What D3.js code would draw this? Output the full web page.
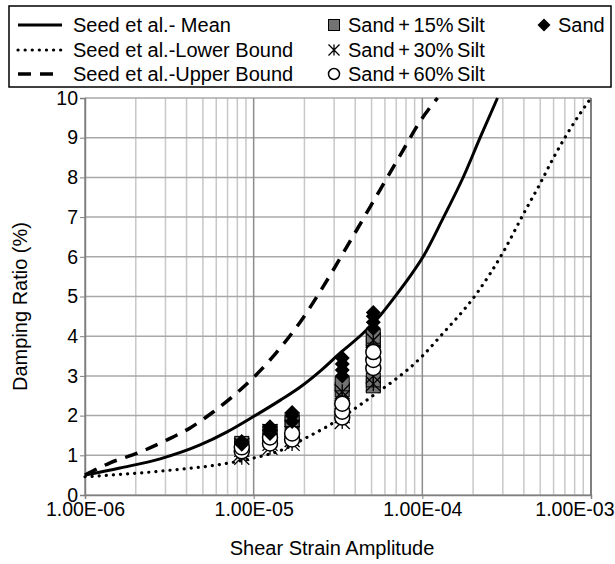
<!DOCTYPE html>
<html>
<head>
<meta charset="utf-8">
<script src="https://cdn.jsdelivr.net/npm/d3@7"></script>
<style>
  body { margin: 0; background: #fff; }
  text { font-family: "Liberation Sans", Arial, sans-serif; fill: #000; }
</style>
</head>
<body>
<div id="chart"></div>
<script>
const width = 615;
const height = 564;
const margin = { top: 98, right: 24, bottom: 69, left: 85 };

// Seed et al. curves [strain, damping %]
const seedMean = [[1e-6, 0.5], [1.61e-6, 0.68], [2.79e-6, 0.91], [4.81e-6, 1.26], [6.96e-6, 1.59],
  [9.93e-6, 1.97], [1.44e-5, 2.39], [1.89e-5, 2.72], [2.48e-5, 3.12], [3.26e-5, 3.58],
  [4.47e-5, 4.08], [5.64e-5, 4.53], [6.92e-5, 5.01], [8.49e-5, 5.52], [1.01e-4, 6.0],
  [1.33e-4, 6.98], [1.75e-4, 8.01], [2.21e-4, 9.02], [2.79e-4, 10]];
const seedLower = [[1e-6, 0.46], [2.8e-6, 0.6], [7e-6, 0.8], [1e-5, 0.93], [1.6e-5, 1.2],
  [2e-5, 1.42], [2.66e-5, 1.7], [4.9e-5, 2.45], [1e-4, 3.5], [1.28e-4, 4.0], [2.12e-4, 5.1],
  [3e-4, 6.1], [4e-4, 7.1], [5e-4, 7.85], [6e-4, 8.5], [7e-4, 9.0], [8e-4, 9.4], [1e-3, 10]];
const seedUpper = [[1e-6, 0.5], [1.41e-6, 0.81], [2.12e-6, 1.08], [3.07e-6, 1.39], [4.2e-6, 1.69],
  [5.75e-6, 2.09], [7.55e-6, 2.49], [9.93e-6, 2.95], [1.34e-5, 3.55], [1.89e-5, 4.36],
  [2.55e-5, 5.21], [3.74e-5, 6.4], [5.64e-5, 7.7], [7.4e-5, 8.56], [9.73e-5, 9.42], [1.23e-4, 10]];

// test points: [strain, damping %]
const sand15 = [[8.5e-6, 1.25], [8.5e-6, 1.3], [1.25e-5, 1.55], [1.25e-5, 1.6], [1.69e-5, 1.8],
  [1.69e-5, 1.9], [3.35e-5, 2.65], [3.35e-5, 2.8], [5.12e-5, 2.75], [5.12e-5, 2.9],
  [5.12e-5, 3.9], [5.12e-5, 4.0]];
const sand30 = [[8.5e-6, 0.95], [8.5e-6, 1.05], [8.5e-6, 1.15], [8.5e-6, 1.25], [1.25e-5, 1.2],
  [1.25e-5, 1.3], [1.25e-5, 1.45], [1.25e-5, 1.6], [1.69e-5, 1.3], [1.69e-5, 1.4], [1.69e-5, 1.55],
  [1.69e-5, 1.7], [3.35e-5, 1.85], [3.35e-5, 2.0], [3.35e-5, 2.2], [3.35e-5, 2.45], [3.35e-5, 2.6],
  [5.12e-5, 2.8], [5.12e-5, 3.0], [5.12e-5, 3.3], [5.12e-5, 3.6], [5.12e-5, 3.9]];
const sand60 = [[8.5e-6, 1.1], [8.5e-6, 1.2], [1.25e-5, 1.3], [1.25e-5, 1.45], [1.69e-5, 1.4],
  [1.69e-5, 1.55], [3.35e-5, 1.95], [3.35e-5, 2.1], [3.35e-5, 2.3], [5.12e-5, 3.2],
  [5.12e-5, 3.4], [5.12e-5, 3.6]];
const sand = [[8.5e-6, 1.28], [8.5e-6, 1.35], [1.25e-5, 1.55], [1.25e-5, 1.65], [1.25e-5, 1.72],
  [1.69e-5, 1.85], [1.69e-5, 2.0], [1.69e-5, 2.08], [3.35e-5, 3.0], [3.35e-5, 3.15],
  [3.35e-5, 3.3], [3.35e-5, 3.45], [5.12e-5, 4.2], [5.12e-5, 4.35], [5.12e-5, 4.5], [5.12e-5, 4.6]];

const xTicks = [1e-6, 1e-5, 1e-4, 1e-3];
const yTicks = [0, 1, 2, 3, 4, 5, 6, 7, 8, 9, 10];

const svg = d3.select('#chart').append('svg')
  .attr('width', width)
  .attr('height', height);

const x = d3.scaleLog().domain([1e-6, 1e-3]).range([margin.left, width - margin.right]);
const y = d3.scaleLinear().domain([0, 10]).range([height - margin.bottom, margin.top]);

// minor vertical grid
const minor = [];
[1e-6, 1e-5, 1e-4].forEach(d => { for (let k = 2; k <= 9; k++) minor.push(d * k); });
svg.append('g').selectAll('line').data(minor).join('line')
  .attr('x1', d => x(d)).attr('x2', d => x(d))
  .attr('y1', y(0)).attr('y2', y(10))
  .attr('stroke', '#c8c8c8').attr('stroke-width', 1.5);

// horizontal grid
svg.append('g').selectAll('line').data(yTicks).join('line')
  .attr('x1', x(1e-6)).attr('x2', x(1e-3))
  .attr('y1', d => y(d)).attr('y2', d => y(d))
  .attr('stroke', '#a8a8a8').attr('stroke-width', 1.5);

// major vertical grid
svg.append('g').selectAll('line').data(xTicks).join('line')
  .attr('x1', d => x(d)).attr('x2', d => x(d))
  .attr('y1', y(0)).attr('y2', y(10))
  .attr('stroke', d => d === 1e-3 ? '#555' : '#8c8c8c').attr('stroke-width', 1.5);

// axes
const yAxis = svg.append('g')
  .attr('transform', `translate(${margin.left},0)`)
  .call(d3.axisLeft(y).tickValues(yTicks).tickSize(5).tickPadding(2));
yAxis.select('.domain').attr('stroke', '#808080').attr('stroke-width', 1.5);
yAxis.selectAll('line').attr('stroke', '#808080');
yAxis.selectAll('text').attr('font-size', '19.5px').attr('font-family', '"Liberation Sans", Arial, sans-serif');

const xAxis = svg.append('g')
  .attr('transform', `translate(0,${height - margin.bottom})`)
  .call(d3.axisBottom(x).tickValues(xTicks).tickSize(4).tickPadding(3)
    .tickFormat(d => d.toExponential(2).replace('e-', 'E-0').toUpperCase()));
xAxis.select('.domain').attr('stroke', '#808080').attr('stroke-width', 1.5);
xAxis.selectAll('line').attr('stroke', '#808080');
xAxis.selectAll('text').attr('font-size', '19.5px').attr('font-family', '"Liberation Sans", Arial, sans-serif');
// last label is pulled inside the right edge
xAxis.selectAll('.tick').filter(d => d === 1e-3).select('text')
  .attr('text-anchor', 'end').attr('x', width - 1 - x(1e-3));

// axis titles
svg.append('text')
  .attr('x', (margin.left + width - margin.right) / 2 - 6)
  .attr('y', 555)
  .attr('text-anchor', 'middle')
  .style('font-size', '20px')
  .text('Shear Strain Amplitude');

svg.append('text')
  .attr('transform', `translate(27,${(y(0) + y(10)) / 2 + 10}) rotate(-90)`)
  .attr('text-anchor', 'middle')
  .style('font-size', '20px')
  .text('Damping Ratio (%)');

// curves
const line = d3.line()
  .x(d => x(d[0]))
  .y(d => y(d[1]))
  .curve(d3.curveMonotoneX);

const plot = svg.append('g');
plot.append('path').datum(seedLower)
  .attr('fill', 'none').attr('stroke', '#000').attr('stroke-width', 3.2)
  .attr('stroke-linecap', 'round').attr('stroke-dasharray', '0.1 7')
  .attr('d', line);
plot.append('path').datum(seedUpper)
  .attr('fill', 'none').attr('stroke', '#000').attr('stroke-width', 3.5)
  .attr('stroke-dasharray', '13 9')
  .attr('d', line);
plot.append('path').datum(seedMean)
  .attr('fill', 'none').attr('stroke', '#000').attr('stroke-width', 3)
  .attr('d', line);

// markers
const drawSquare = (g, s) => g.append('rect').attr('x', -s / 2).attr('y', -s / 2)
  .attr('width', s).attr('height', s).attr('fill', '#737373').attr('stroke', '#000').attr('stroke-width', 1);
const drawStar = (g, s) => g.append('path')
  .attr('d', `M${-s / 2},${-s / 2}L${s / 2},${s / 2}M${-s / 2},${s / 2}L${s / 2},${-s / 2}M0,${-s / 2}L0,${s / 2}`)
  .attr('stroke', '#000').attr('stroke-width', 1.3).attr('fill', 'none');
const drawCircle = (g, s) => g.append('circle').attr('r', s / 2)
  .attr('fill', '#fff').attr('stroke', '#000').attr('stroke-width', 1.5);
const drawDiamond = (g, s) => g.append('path')
  .attr('d', `M0,${-s / 2}L${s / 2},0L0,${s / 2}L${-s / 2},0Z`).attr('fill', '#000');

function markers(data, draw, size) {
  plot.append('g').selectAll('g').data(data).join('g')
    .attr('transform', d => `translate(${x(d[0])},${y(d[1])})`)
    .each(function () { draw(d3.select(this), size); });
}
markers(sand15, drawSquare, 14);
markers(sand30, drawStar, 15);
markers(sand60, drawCircle, 15);
markers(sand, drawDiamond, 15);

// legend
const legend = svg.append('g');
legend.append('rect')
  .attr('x', 9).attr('y', 6).attr('width', 602).attr('height', 81)
  .attr('fill', '#fff').attr('stroke', '#000').attr('stroke-width', 1.5);

const rowY = [25, 50, 74];
const lineItems = [
  { label: 'Seed et al.- Mean', dash: null, w: 3 },
  { label: 'Seed et al.-Lower Bound', dash: '0.1 7', w: 3.2 },
  { label: 'Seed et al.-Upper Bound', dash: '13 9', w: 3.5 }
];
lineItems.forEach((it, i) => {
  legend.append('line')
    .attr('x1', 18).attr('x2', 62).attr('y1', rowY[i]).attr('y2', rowY[i])
    .attr('stroke', '#000').attr('stroke-width', it.w)
    .attr('stroke-linecap', it.dash === '0.1 7' ? 'round' : 'butt')
    .attr('stroke-dasharray', it.dash);
  legend.append('text').attr('x', 73).attr('y', rowY[i]).attr('dy', '0.36em')
    .style('font-size', '20px').text(it.label);
});

const markerItems = [
  { label: 'Sand + 15% Silt', draw: drawSquare, size: 11, x: 334, y: rowY[0] },
  { label: 'Sand + 30% Silt', draw: drawStar, size: 11, x: 334, y: rowY[1] },
  { label: 'Sand + 60% Silt', draw: drawCircle, size: 11, x: 334, y: rowY[2] },
  { label: 'Sand', draw: drawDiamond, size: 13, x: 544, y: rowY[0] }
];
markerItems.forEach(it => {
  const g = legend.append('g').attr('transform', `translate(${it.x},${it.y})`);
  it.draw(g, it.size);
  legend.append('text').attr('x', it.x + 14).attr('y', it.y).attr('dy', '0.36em')
    .style('font-size', '20px').style('word-spacing', '-2px').text(it.label);
});
</script>
</body>
</html>
